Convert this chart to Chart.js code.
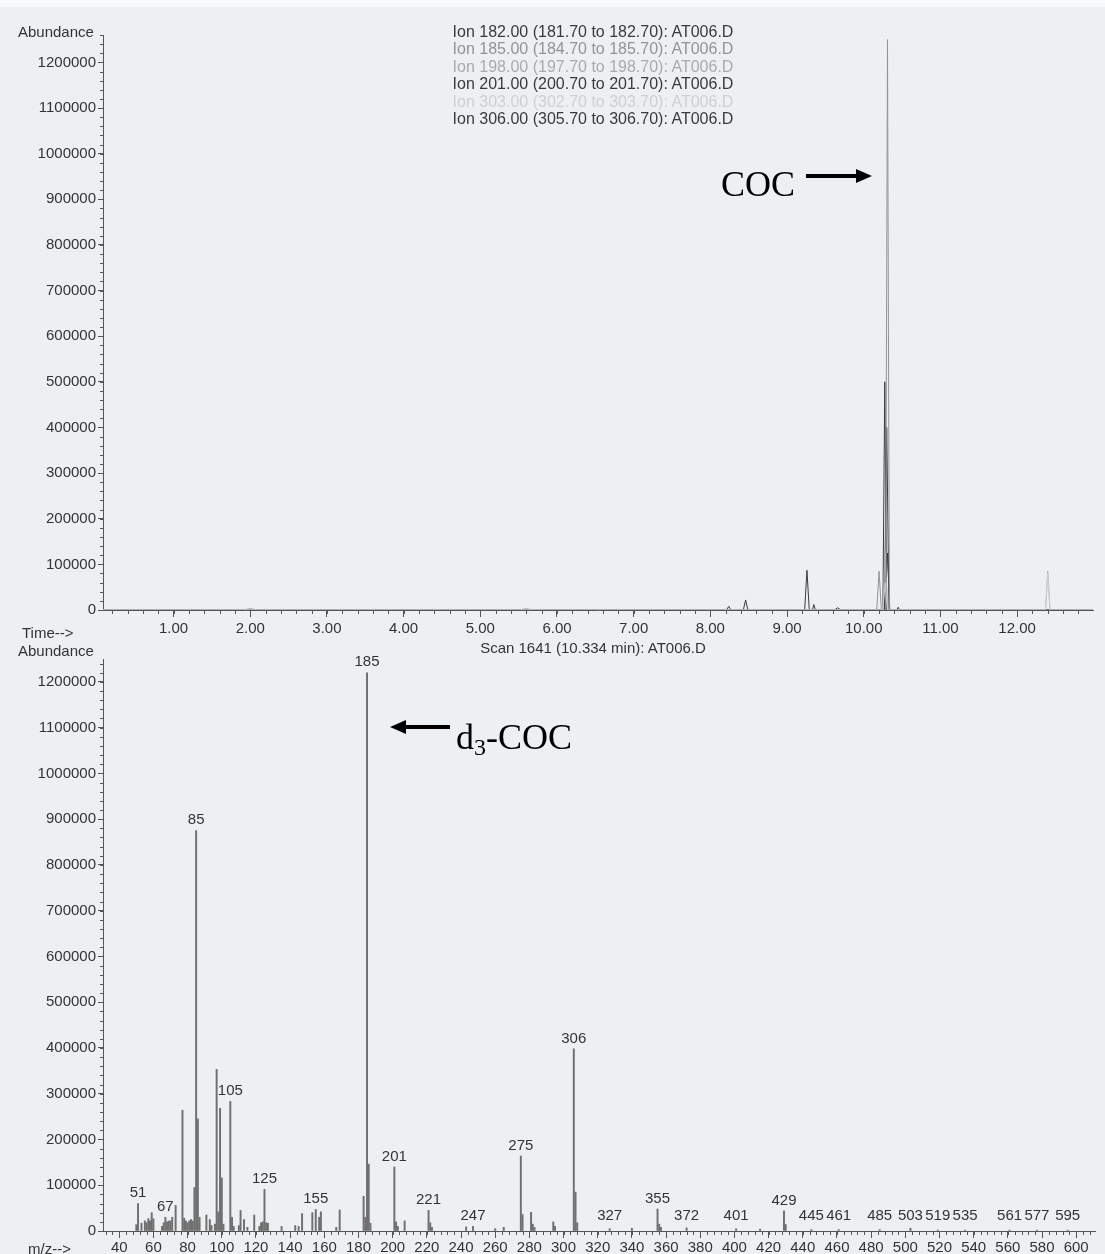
<!DOCTYPE html>
<html>
<head>
<meta charset="utf-8">
<script src="https://cdn.jsdelivr.net/npm/chart.js@4.4.1/dist/chart.umd.min.js"></script>
<style>
  html, body { margin:0; padding:0; }
  body { width:1105px; height:1254px; background:#edf0f2; position:relative; overflow:hidden;
         font-family:"Liberation Sans", Arial, sans-serif; }
  .strip { position:absolute; left:0; top:0; width:1105px; height:7px; background:#f8f9fa; }
  .panel { position:absolute; left:0; width:1105px; }
  .txt { position:absolute; white-space:nowrap; color:#333; font-size:15px; line-height:1; }
  #legend { position:absolute; left:393px; top:23px; width:400px; text-align:center; font-size:16px; line-height:17.4px; }
  .ann { position:absolute; font-family:"Liberation Serif","Times New Roman",serif; font-size:36px; color:#000; line-height:1; white-space:nowrap; }
  .ann sub { font-size:24px; vertical-align:-6px; line-height:0; }
  .arrow { position:absolute; height:4px; background:#000; }
  .headR { position:absolute; width:0; height:0; border-top:7px solid transparent; border-bottom:7px solid transparent; border-left:16px solid #000; }
  .headL { position:absolute; width:0; height:0; border-top:7px solid transparent; border-bottom:7px solid transparent; border-right:16px solid #000; }
</style>
</head>
<body>
<div class="strip"></div>
<div class="panel" style="top:0;height:640px;"><canvas id="tic" width="1105" height="640"></canvas></div>
<div class="panel" style="top:637px;height:617px;"><canvas id="ms" width="1105" height="617"></canvas></div>

<div class="txt" style="left:18px;top:24px;">Abundance</div>
<div class="txt" style="left:22px;top:625px;">Time--&gt;</div>
<div class="txt" style="left:18px;top:643px;">Abundance</div>
<div class="txt" style="left:28px;top:1241px;">m/z--&gt;</div>
<div class="txt" id="scanTitle" style="left:393px;top:640px;width:400px;text-align:center;"></div>
<div id="legend"></div>

<div class="ann" style="left:721px;top:166px;">COC</div>
<div class="arrow" style="left:806px;top:174px;width:52px;"></div>
<div class="headR" style="left:856px;top:169px;"></div>

<div class="ann" style="left:456px;top:719px;">d<sub>3</sub>-COC</div>
<div class="arrow" style="left:404px;top:725px;width:46px;"></div>
<div class="headL" style="left:390px;top:720px;"></div>

<script>
// ---------------- DATA ----------------
// Extracted ion chromatogram traces (time in min, abundance)
const ionLabels = [
  "Ion 182.00 (181.70 to 182.70): AT006.D",
  "Ion 185.00 (184.70 to 185.70): AT006.D",
  "Ion 198.00 (197.70 to 198.70): AT006.D",
  "Ion 201.00 (200.70 to 201.70): AT006.D",
  "Ion 303.00 (302.70 to 303.70): AT006.D",
  "Ion 306.00 (305.70 to 306.70): AT006.D"
];
const ionColors = ["#3a3a3a", "#939393", "#aaaaaa", "#3a3a3a", "#cfcfcf", "#3a3a3a"];

const ion182Times  = [0.08, 8.21, 8.24, 8.27, 8.43, 8.46, 8.49, 9.23, 9.26, 9.29, 10.25, 10.275, 10.30, 12.99];
const ion182Values = [0,    0,    8000, 0,    0,    22000, 0,   0,    87000, 0,   0,     500000, 0,    0];

const ion185Times  = [0.08, 10.17, 10.20, 10.23, 10.285, 10.31, 10.335, 12.99];
const ion185Values = [0,    0,     85000, 0,     0,      1250000, 0,   0];

const ion198Times  = [0.08, 1.90, 2.00, 2.10, 5.50, 5.60, 5.70, 10.25, 10.28, 10.31, 12.37, 12.40, 12.43, 12.99];
const ion198Values = [0,    0,    3000, 0,    0,    3000, 0,    0,     130000, 0,    0,     85000, 0,     0];

const ion201Times  = [0.08, 9.33, 9.35, 9.37, 9.62, 9.66, 9.70, 10.28, 10.31, 10.34, 10.43, 10.45, 10.47, 12.99];
const ion201Values = [0,    0,    12000, 0,   0,    5000, 0,    0,     125000, 0,    0,     6000, 0,      0];

const ion303Times  = [0.08, 10.25, 10.28, 10.31, 12.37, 12.40, 12.43, 12.99];
const ion303Values = [0,    0,     60000, 0,     0,     80000, 0,     0];

const ion306Times  = [0.08, 10.27, 10.30, 10.33, 12.99];
const ion306Values = [0,    0,     400000, 0,    0];

const ticYTicks = [0,100000,200000,300000,400000,500000,600000,700000,800000,900000,1000000,1100000,1200000];
const ticXTicks = [1,2,3,4,5,6,7,8,9,10,11,12];

// Mass spectrum at scan 1641 (10.334 min)
const scanTitle = "Scan 1641 (10.334 min): AT006.D";
const msMz = [50,51,53,55,56,57,58,59,60,65,66,67,68,69,70,71,73,77,78,79,80,81,82,83,84,85,86,87,
  91,93,94,96,97,98,99,100,101,105,106,107,110,111,113,115,119,122,123,124,125,126,127,135,143,145,147,
  153,155,157,158,167,169,183,184,185,186,187,201,202,203,207,221,222,223,243,247,260,265,
  275,276,281,282,283,294,295,306,307,308,327,340,355,356,357,372,401,415,429,430,445,461,485,503,519,535,561,577,595];
const msAbundance = [14000,60000,17000,22000,18000,27000,22000,40000,27000,10000,18000,30000,20000,22000,22000,30000,56000,264000,28000,22000,18000,22000,25000,22000,95000,875000,245000,30000,
  35000,25000,12000,15000,353000,42000,268000,116000,15000,283000,30000,10000,12000,45000,25000,8000,35000,10000,18000,20000,91000,18000,17000,10000,12000,10000,38000,
  40000,47000,30000,42000,8000,46000,76000,30000,1220000,146000,17000,140000,20000,10000,22000,45000,18000,8000,9000,10000,5000,8000,
  164000,36000,41000,15000,8000,20000,10000,398000,85000,18000,5000,6000,48000,15000,8000,7000,5000,4000,44000,14000,3000,3000,3000,6000,2000,2000,2000,2000,2000];
const msPeakLabels = [51,67,85,105,125,155,185,201,221,247,275,306,327,355,372,401,429,445,461,485,503,519,535,561,577,595];
const msYTicks = ticYTicks;
const msXTicks = [40,60,80,100,120,140,160,180,200,220,240,260,280,300,320,340,360,380,400,420,440,460,480,500,520,540,560,580,600];

// ---------------- TEXT ----------------
document.getElementById('legend').innerHTML = ionLabels.map((t,i)=>'<div style="color:'+ionColors[i]+'">'+t+'</div>').join('');
document.getElementById('scanTitle').textContent = scanTitle;

// ---------------- HELPERS ----------------
const FONT = {family:'"Liberation Sans", Arial, sans-serif', size:15};
const AX = '#555';

function minorTicks(opts) {
  return {
    id: 'minorTicks',
    afterDraw(chart) {
      const ctx = chart.ctx, x = chart.scales.x, y = chart.scales.y, a = chart.chartArea;
      ctx.save();
      ctx.strokeStyle = AX; ctx.lineWidth = 1;
      ctx.beginPath();
      for (let v = opts.xStart; v <= x.max + 1e-9; v += opts.xStep) {
        if (v < x.min) continue;
        const px = Math.round(x.getPixelForValue(v)) + 0.5;
        ctx.moveTo(px, a.bottom); ctx.lineTo(px, a.bottom + 4);
      }
      for (let v = opts.yStep; v <= y.max; v += opts.yStep) {
        const py = Math.round(y.getPixelForValue(v)) + 0.5;
        ctx.moveTo(a.left, py); ctx.lineTo(a.left - 3, py);
      }
      ctx.stroke();
      ctx.restore();
    }
  };
}

// ---------------- TIC CHART ----------------
const traces = [
  [ion303Times, ion303Values, 4],
  [ion198Times, ion198Values, 2],
  [ion185Times, ion185Values, 1],
  [ion201Times, ion201Values, 3],
  [ion306Times, ion306Values, 5],
  [ion182Times, ion182Values, 0]
];
new Chart(document.getElementById('tic'), {
  type: 'line',
  data: {
    datasets: traces.map(([t, v, ci]) => ({
      label: ionLabels[ci],
      data: t.map((tt, i) => ({x: tt, y: v[i]})),
      borderColor: ionColors[ci],
      borderWidth: 1,
      pointRadius: 0,
      tension: 0,
      fill: false
    }))
  },
  options: {
    responsive: false, animation: false, maintainAspectRatio: false,
    layout: { padding: { left: 0, right: 12, top: 35, bottom: 0 } },
    plugins: { legend: { display: false }, tooltip: { enabled: false }, title: { display: false } },
    scales: {
      x: {
        type: 'linear', min: 0.08, max: 12.99,
        afterBuildTicks(s){ s.ticks = ticXTicks.map(v => ({value: v})); },
        afterFit(s){ s.height = 30; },
        ticks: { font: FONT, color: '#333', padding: 3, maxRotation: 0, autoSkip: false,
                 callback: v => Number(v).toFixed(2) },
        grid: { display: true, drawOnChartArea: false, drawTicks: true, tickLength: 7, color: AX },
        border: { display: true, color: AX, width: 1 }
      },
      y: {
        type: 'linear', min: 0, max: 1260000,
        afterBuildTicks(s){ s.ticks = ticYTicks.map(v => ({value: v})); },
        afterFit(s){ s.width = 103; },
        ticks: { font: FONT, color: '#333', padding: 2, autoSkip: false, callback: v => String(v) },
        grid: { display: true, drawOnChartArea: false, drawTicks: true, tickLength: 5, color: AX },
        border: { display: true, color: AX, width: 1 }
      }
    }
  },
  plugins: [minorTicks({xStart: 0.2, xStep: 0.2, yStep: 20000})]
});

// ---------------- MASS SPECTRUM ----------------
const peakLabelPlugin = {
  id: 'peakLabels',
  afterDatasetsDraw(chart) {
    const ctx = chart.ctx, x = chart.scales.x, y = chart.scales.y;
    const base = y.getPixelForValue(0);
    ctx.save();
    ctx.font = '15px "Liberation Sans", Arial, sans-serif';
    ctx.fillStyle = '#333';
    ctx.textAlign = 'center';
    ctx.textBaseline = 'bottom';
    msPeakLabels.forEach(m => {
      const idx = msMz.indexOf(m);
      const ab = idx >= 0 ? msAbundance[idx] : 0;
      const px = x.getPixelForValue(m);
      let py = y.getPixelForValue(ab) - 3;
      py = Math.min(py, base - 8);
      ctx.fillText(String(m), px, py);
    });
    ctx.restore();
  }
};

new Chart(document.getElementById('ms'), {
  type: 'bar',
  data: {
    datasets: [{
      label: scanTitle,
      data: msMz.map((m, i) => ({x: m, y: msAbundance[i]})),
      backgroundColor: '#6f6f6f',
      borderWidth: 0,
      barThickness: 1.3
    }]
  },
  options: {
    responsive: false, animation: false, maintainAspectRatio: false,
    layout: { padding: { left: 0, right: 10, top: 22, bottom: 0 } },
    plugins: { legend: { display: false }, tooltip: { enabled: false }, title: { display: false } },
    scales: {
      x: {
        type: 'linear', min: 30.5, max: 611, offset: false,
        afterBuildTicks(s){ s.ticks = msXTicks.map(v => ({value: v})); },
        afterFit(s){ s.height = 23; },
        ticks: { font: FONT, color: '#333', padding: 1, maxRotation: 0, autoSkip: false },
        grid: { display: true, offset: false, drawOnChartArea: false, drawTicks: true, tickLength: 7, color: AX },
        border: { display: true, color: AX, width: 1 }
      },
      y: {
        type: 'linear', min: 0, max: 1250000,
        afterBuildTicks(s){ s.ticks = msYTicks.map(v => ({value: v})); },
        afterFit(s){ s.width = 103; },
        ticks: { font: FONT, color: '#333', padding: 2, autoSkip: false, callback: v => String(v) },
        grid: { display: true, drawOnChartArea: false, drawTicks: true, tickLength: 5, color: AX },
        border: { display: true, color: AX, width: 1 }
      }
    }
  },
  plugins: [minorTicks({xStart: 32, xStep: 4, yStep: 20000}), peakLabelPlugin]
});
</script>
</body>
</html>
